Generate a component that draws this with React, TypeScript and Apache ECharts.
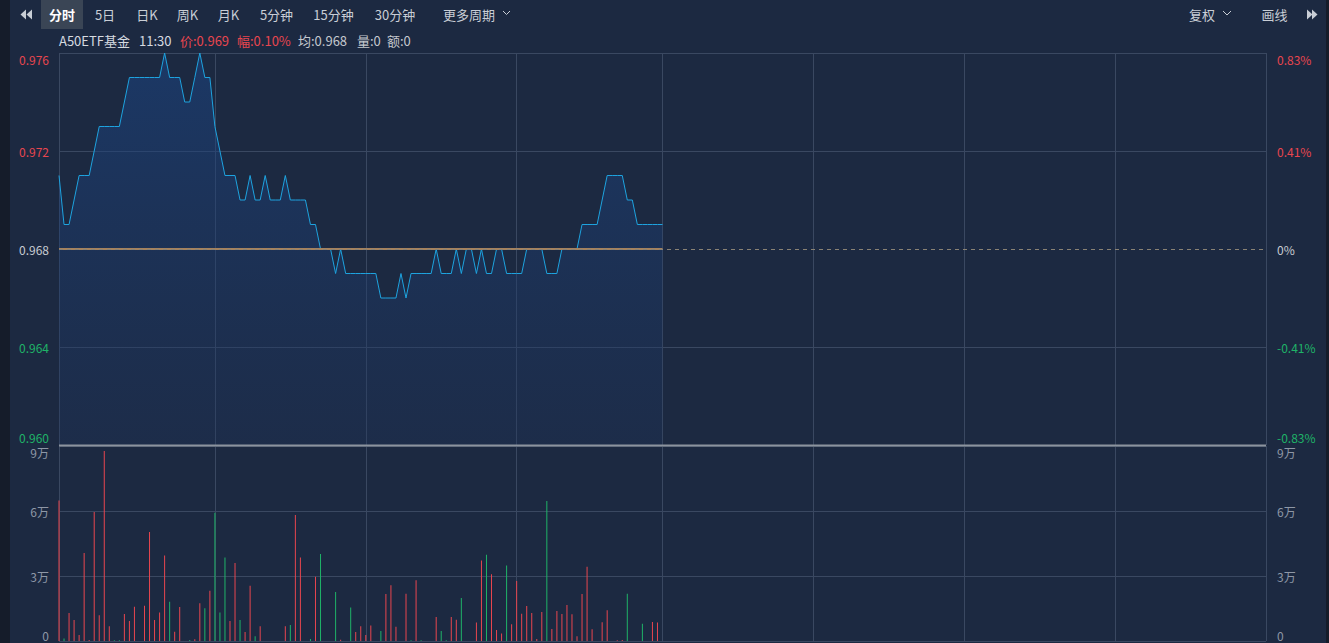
import React, { useEffect, useRef } from "react";
import * as echarts from "echarts";

const periodTabs = ["分时", "5日", "日K", "周K", "月K", "5分钟", "15分钟", "30分钟", "更多周期"];
const rightTabs = ["复权", "画线"];
const stockName = "A50ETF基金";
const lastTime = "11:30";
const prevClose = 0.968;
const avgPrice = 0.968;
const priceMin = 0.96;
const priceMax = 0.976;
const priceStep = 0.004;
const volumeMax = 9; // 万
const volumeStep = 3;
const lastAmount = 0;

// minute prices 09:30 - 11:30
const prices = [
  0.971, 0.969, 0.969, 0.970, 0.971, 0.971, 0.971, 0.972, 0.973, 0.973,
  0.973, 0.973, 0.973, 0.974, 0.975, 0.975, 0.975, 0.975, 0.975, 0.975,
  0.975, 0.976, 0.975, 0.975, 0.975, 0.974, 0.974, 0.975, 0.976, 0.975,
  0.975, 0.973, 0.972, 0.971, 0.971, 0.971, 0.970, 0.970, 0.971, 0.970,
  0.970, 0.971, 0.970, 0.970, 0.970, 0.971, 0.970, 0.970, 0.970, 0.970,
  0.969, 0.969, 0.968, 0.968, 0.968, 0.967, 0.968, 0.967, 0.967, 0.967,
  0.967, 0.967, 0.967, 0.967, 0.966, 0.966, 0.966, 0.966, 0.967, 0.966,
  0.967, 0.967, 0.967, 0.967, 0.967, 0.968, 0.967, 0.967, 0.967, 0.968,
  0.967, 0.968, 0.968, 0.967, 0.968, 0.967, 0.967, 0.968, 0.968, 0.967,
  0.967, 0.967, 0.967, 0.968, 0.968, 0.968, 0.968, 0.967, 0.967, 0.967,
  0.968, 0.968, 0.968, 0.968, 0.969, 0.969, 0.969, 0.969, 0.970, 0.971,
  0.971, 0.971, 0.971, 0.970, 0.970, 0.969, 0.969, 0.969, 0.969, 0.969,
  0.969,
];

// minute volumes, in 万
const volumes = [
  6.48, 0.12, 1.29, 0.97, 0.28, 4.06, 0.05, 5.95, 1.19, 8.77,
  0.68, 0.03, 0.03, 1.25, 0.92, 1.58, 0, 1.63, 5.03, 0.97,
  1.32, 3.95, 1.81, 0.43, 1.57, 0, 0.05, 0.08, 1.74, 1.51,
  2.32, 5.92, 1.32, 3.85, 0.92, 3.6, 0.97, 0.42, 2.55, 0.22,
  0.68, 0, 0, 0, 0, 0.68, 0.74, 5.82, 3.85, 0,
  0.09, 2.97, 4.02, 0, 0, 2.26, 0.06, 0, 1.55, 0.42,
  0.68, 0.28, 0.72, 0, 0.46, 2.17, 2.57, 0.66, 0, 2.18,
  0.03, 2.8, 0.03, 0, 0, 1.11, 0.46, 0.03, 1.11, 0.98,
  1.98, 0, 0, 0.85, 3.71, 3.98, 3.08, 0.51, 0.35, 3.49,
  0.77, 2.77, 1.26, 1.62, 1.29, 0.09, 1.34, 6.46, 0.55, 1.38,
  1.25, 1.66, 1.23, 0.22, 2.17, 3.43, 0.54, 0, 0.86, 1.42,
  0, 0.03, 0.05, 2.18, 0, 0, 0.8, 0, 0.88, 0.85,
  0,
];

// r = up (red), g = down (green)
const volumeSides = (
  "rgrrrrrrrr" + "rggrrrrrrr" + "rrgrrrgrrg" + "rgggrrgrrg" + "rrrrrrgrrr" +
  "grgrrgrrgr" + "rrrrgrrrrr" + "grgrrrggrr" + "grrrrgrrrg" + "rrrrrrrgrr" +
  "rrrrrrrrrr" + "rrrgrrgrrr" + "r"
).split("");

// times of the trading day
const buildTimes = () => {
  const out: string[] = [];
  const fmt = (m: number) => `${String(Math.floor(m / 60)).padStart(2, "0")}:${String(m % 60).padStart(2, "0")}`;
  for (let m = 9 * 60 + 30; m <= 11 * 60 + 30; m++) out.push(fmt(m));
  for (let m = 13 * 60 + 1; m <= 15 * 60; m++) out.push(fmt(m));
  return out;
};
const times = buildTimes();
const gridTimes = ["09:30", "10:01", "10:31", "11:01", "11:30", "13:30", "14:00", "14:30", "15:00"];

const RED = "#e8464f";
const GREEN = "#1fb368";
const NEUTRAL = "#c8ccd2";
const GRIDC = "#3a4861";
const FONT = "'Noto Sans CJK SC', 'Noto Sans', sans-serif";

export default function App() {
  const ref = useRef<HTMLDivElement>(null);
  useEffect(() => {
    document.body.style.margin = "0";
    document.body.style.background = "#151c2a";
    if (!ref.current) return;
    const chart = echarts.init(ref.current, undefined, { renderer: "svg" });

    const lastPrice = prices[prices.length - 1];
    const chg = ((lastPrice - prevClose) / prevClose) * 100;
    const lastVol = volumes[volumes.length - 1];

    const priceColor = (v: number) => {
      const d = Math.round((v - prevClose) * 10000);
      return d > 0 ? RED : d < 0 ? GREEN : NEUTRAL;
    };
    const isMin = (v: number) => Math.abs(v - priceMin) < 1e-9;
    const splitIdx = (i: number) => gridTimes.includes(times[i]);

    const tabX = [62, 105, 147, 187.5, 228.5, 276.5, 333.5, 395, 469];
    const tabs: any[] = periodTabs.map((t, i) => ({
      type: "text",
      x: tabX[i],
      y: 14,
      style: {
        text: t,
        fill: i === 0 ? "#ffffff" : "#c9ced6",
        font: `${i === 0 ? "bold " : ""}13px ${FONT}`,
        align: "center",
        verticalAlign: "middle",
      },
    }));
    const rTabX = [1202, 1274.5];
    rightTabs.forEach((t, i) =>
      tabs.push({
        type: "text",
        x: rTabX[i],
        y: 14,
        style: { text: t, fill: "#c9ced6", font: `13px ${FONT}`, align: "center", verticalAlign: "middle" },
      })
    );

    const info = [
      { t: stockName, x: 59, c: "#d6dae0" },
      { t: lastTime, x: 139, c: "#d6dae0" },
      { t: `价:${lastPrice.toFixed(3)}`, x: 180, c: priceColor(lastPrice) },
      { t: `幅:${chg.toFixed(2)}%`, x: 237, c: priceColor(lastPrice) },
      { t: `均:${avgPrice.toFixed(3)}`, x: 298, c: "#c4c8ce" },
      { t: `量:${lastVol}`, x: 357, c: "#c4c8ce" },
      { t: `额:${lastAmount}`, x: 387, c: "#c4c8ce" },
    ].map((o) => ({
      type: "text",
      x: o.x,
      y: 40,
      style: { text: o.t, fill: o.c, font: `13px ${FONT}`, align: "left", verticalAlign: "middle" },
    }));

    const iconC = "#c9ced6";
    const graphics: any[] = [
      { type: "rect", shape: { x: 0, y: 0, width: 10, height: 643 }, style: { fill: "#151c2a" } },
      { type: "rect", shape: { x: 1326, y: 0, width: 3, height: 643 }, style: { fill: "#151c2a" } },
      { type: "rect", shape: { x: 41, y: 0, width: 42, height: 29 }, style: { fill: "#3a4555" } },
      { type: "polygon", shape: { points: [[26, 9.5], [20.5, 14.5], [26, 19.5]] }, style: { fill: iconC } },
      { type: "polygon", shape: { points: [[32, 9.5], [26.5, 14.5], [32, 19.5]] }, style: { fill: iconC } },
      { type: "polygon", shape: { points: [[1307, 9.5], [1312.5, 14.5], [1307, 19.5]] }, style: { fill: iconC } },
      { type: "polygon", shape: { points: [[1312, 9.5], [1317.5, 14.5], [1312, 19.5]] }, style: { fill: iconC } },
      { type: "polyline", shape: { points: [[503, 11], [506.5, 14.5], [510, 11]] }, style: { stroke: iconC, lineWidth: 1, fill: "none" } },
      { type: "polyline", shape: { points: [[1223, 11], [1227, 15], [1231, 11]] }, style: { stroke: iconC, lineWidth: 1, fill: "none" } },
      { type: "line", shape: { x1: 59, y1: 445.5, x2: 1266, y2: 445.5 }, style: { stroke: "#8c939e", lineWidth: 2 }, z: 100 },
      ...tabs,
      ...info,
    ];

    const yLabelBase = {
      fontSize: 12,
      lineHeight: 12,
      fontFamily: FONT,
      verticalAlignMaxLabel: "top",
      verticalAlignMinLabel: "bottom",
    };
    const lowRich = (c: string) => ({ lo: { color: c, fontSize: 12, lineHeight: 12, fontFamily: FONT, padding: [0, 0, 4, 0] } });

    const option: any = {
      animation: false,
      backgroundColor: "#1c2941",
      textStyle: { fontFamily: FONT },
      graphic: { elements: graphics },
      grid: [
        { left: 59, right: 63, top: 53, height: 392 },
        { left: 59, right: 63, top: 446, height: 195 },
      ],
      xAxis: [0, 1].map((g) => ({
        type: "category",
        gridIndex: g,
        data: times,
        boundaryGap: false,
        axisLine: { show: false },
        axisTick: { show: false },
        axisLabel: { show: false },
        splitLine: { show: true, interval: (i: number) => splitIdx(i), lineStyle: { color: GRIDC, width: 1 } },
      })),
      yAxis: [
        {
          type: "value",
          gridIndex: 0,
          min: priceMin,
          max: priceMax,
          interval: priceStep,
          position: "left",
          axisLine: { show: false },
          axisTick: { show: false },
          axisLabel: {
            ...yLabelBase,
            margin: 10,
            formatter: (v: number) => (isMin(v) ? `{lo|${v.toFixed(3)}}` : v.toFixed(3)),
            color: (v: any) => priceColor(Number(v)),
            rich: lowRich(GREEN),
          },
          splitLine: {
            show: true,
            lineStyle: { color: [GRIDC, GRIDC, "rgba(0,0,0,0)", GRIDC, GRIDC], width: 1 },
          },
        },
        {
          type: "value",
          gridIndex: 0,
          min: priceMin,
          max: priceMax,
          interval: priceStep,
          position: "right",
          axisLine: { show: false },
          axisTick: { show: false },
          axisLabel: {
            ...yLabelBase,
            margin: 11,
            formatter: (v: number) => {
              const p = ((v - prevClose) / prevClose) * 100;
              const s = Math.abs(p) < 1e-6 ? "0%" : `${p.toFixed(2)}%`;
              return isMin(v) ? `{lo|${s}}` : s;
            },
            color: (v: any) => priceColor(Number(v)),
            rich: lowRich(GREEN),
          },
          splitLine: { show: false },
        },
        {
          type: "value",
          gridIndex: 1,
          min: 0,
          max: volumeMax,
          interval: volumeStep,
          position: "left",
          axisLine: { show: false },
          axisTick: { show: false },
          axisLabel: {
            ...yLabelBase,
            margin: 10,
            color: "#8e97a6",
            formatter: (v: number) => (v === 0 ? "0" : `${v}万`),
          },
          splitLine: { show: true, lineStyle: { color: GRIDC, width: 1 } },
        },
        {
          type: "value",
          gridIndex: 1,
          min: 0,
          max: volumeMax,
          interval: volumeStep,
          position: "right",
          axisLine: { show: false },
          axisTick: { show: false },
          axisLabel: {
            ...yLabelBase,
            margin: 11,
            color: "#8e97a6",
            formatter: (v: number) => (v === 0 ? "0" : `${v}万`),
          },
          splitLine: { show: false },
        },
      ],
      series: [
        {
          type: "line",
          xAxisIndex: 0,
          yAxisIndex: 0,
          data: prices,
          showSymbol: false,
          symbol: "none",
          lineStyle: { color: "#1ea3df", width: 1 },
          areaStyle: {
            origin: "start",
            color: new echarts.graphic.LinearGradient(0, 0, 0, 1, [
              { offset: 0, color: "rgba(27,70,135,0.75)" },
              { offset: 1, color: "rgba(30,52,92,0.45)" },
            ]),
          },
          z: 3,
          markLine: {
            silent: true,
            symbol: ["none", "none"],
            label: { show: false },
            data: [
              [
                { coord: [0, avgPrice], lineStyle: { color: "#a5825e", width: 2, type: "solid" } },
                { coord: [prices.length - 1, avgPrice] },
              ],
              [
                { coord: [0, prevClose], lineStyle: { color: "#8a8274", width: 1, type: [4, 4] } },
                { coord: [times.length - 1, prevClose] },
              ],
            ],
          },
        },
        {
          type: "bar",
          xAxisIndex: 1,
          yAxisIndex: 2,
          barWidth: 1,
          data: volumes.map((v, i) => ({
            value: v,
            itemStyle: { color: volumeSides[i] === "g" ? GREEN : RED },
          })),
        },
      ],
    };
    chart.setOption(option);
    return () => chart.dispose();
  }, []);
  return <div ref={ref} style={{ width: 1329, height: 643 }} />;
}
